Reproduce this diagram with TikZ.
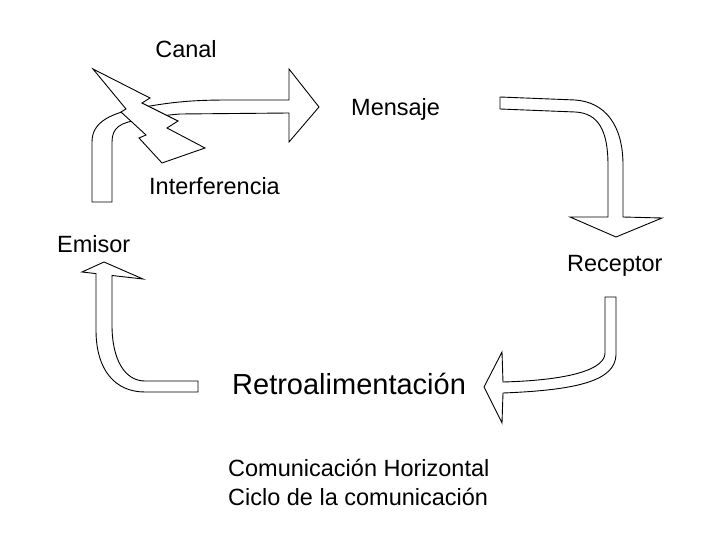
\documentclass[tikz,border=0pt]{standalone}
\usepackage{fontspec}
\setmainfont{Liberation Sans}
\usepackage{tikz}
\tikzstyle{flecha} = [draw=black,fill=white,line width=0.9pt,line join=miter]
\tikzstyle{rayo} = [draw=black,fill=white,line width=0.9pt]
\tikzstyle{etiqueta} = [inner sep=0pt,anchor=base west,font=\fontsize{23.5}{28}\selectfont]
\begin{document}
\begin{tikzpicture}[x=1pt,y=-1pt]
    \useasboundingbox (0,0) rectangle (720,540);
    % canal: emisor -> mensaje
    \path[flecha] (92,202) -- (92,142) .. controls (92,122) and (110,112) .. (150,106)
        .. controls (180,101) and (200,100) .. (230,100) -- (289,100) -- (289,69) -- (319,107)
        -- (289,142) -- (289,113) -- (180,114) .. controls (155,116) and (150,119) .. (140,120)
        .. controls (120,122) and (112,128) .. (112,142) -- (112,202) -- cycle;
    \path[rayo] (93,69) -- (150,98) -- (142,103) -- (178,121) -- (167,128) -- (205,148)
        -- (162,163) -- (139,138) -- (146,135) -- (121,112) -- (126,109) -- cycle;
    % mensaje -> receptor
    \path[flecha] (500,97) -- (575,100) .. controls (605,102) and (623,125) .. (623,165)
        -- (623,217) -- (662,218) -- (616,237) -- (570,217) -- (608,217) -- (608,165)
        .. controls (608,130) and (598,113) .. (575,112) -- (500,109) -- cycle;
    % receptor -> retroalimentacion
    \path[flecha] (616,297) -- (616,355) .. controls (615,380) and (580,390) .. (503,393)
        -- (502,423) -- (484,387) -- (502,352) -- (503,382)
        .. controls (575,380) and (605,368) .. (605,353) -- (605,297) -- cycle;
    % retroalimentacion -> emisor
    \path[flecha] (96,273.6) -- (96,330) .. controls (96,370) and (115,392) .. (145,392)
        -- (198,392) -- (198,381) -- (145,381) .. controls (125,381) and (112,360) .. (112,325)
        -- (112,275.5) -- (143,279) -- (104,262) -- (82,272) -- cycle;
    % textos
    \node[etiqueta,anchor=base] (canal) at (186,58) {Canal};
    \node[etiqueta] (mensaje) at (351,116) {Mensaje};
    \node[etiqueta] (interferencia) at (149,195) {Interferencia};
    \node[etiqueta] (emisor) at (57,252) {Emisor};
    \node[etiqueta] (receptor) at (567,271) {Receptor};
    \node[etiqueta,font=\fontsize{29}{34}\selectfont] (retro) at (232,394) {Retroalimentación};
    \node[etiqueta] (horizontal) at (228,476) {Comunicación Horizontal};
    \node[etiqueta] (ciclo) at (228,505) {Ciclo de la comunicación};
\end{tikzpicture}
\end{document}
